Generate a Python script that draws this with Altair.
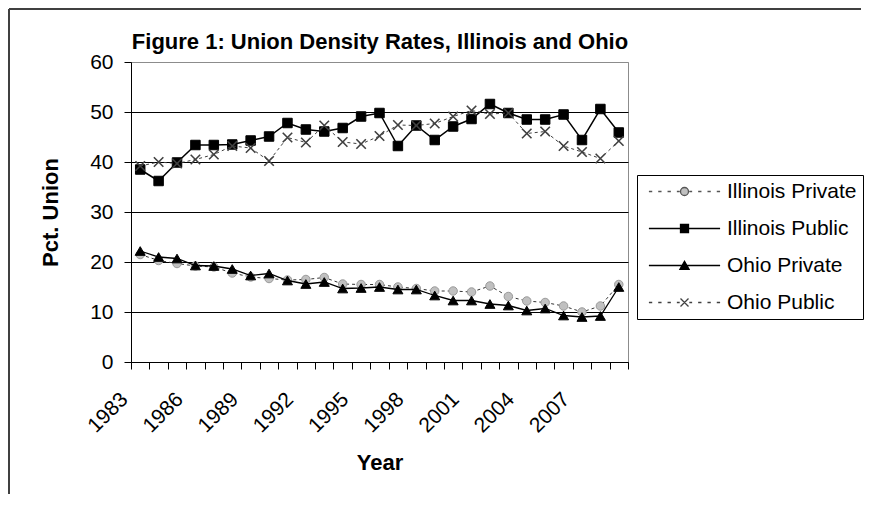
import altair as alt
import pandas as pd

# ---- data ----
years = list(range(1983, 2010))
series_names = ["Illinois Private", "Illinois Public", "Ohio Private", "Ohio Public"]

illinois_private = [21.5, 20.3, 19.7, 19.2, 19.0, 17.8, 17.0, 16.7, 16.4, 16.5,
                    16.9, 15.6, 15.5, 15.5, 15.0, 14.7, 14.2, 14.2, 14.0, 15.2,
                    13.1, 12.2, 11.9, 11.2, 10.0, 11.2, 15.5]
illinois_public = [38.5, 36.2, 39.9, 43.4, 43.4, 43.5, 44.3, 45.1, 47.8, 46.5,
                   46.1, 46.8, 49.1, 49.8, 43.2, 47.3, 44.4, 47.1, 48.6, 51.6,
                   49.8, 48.5, 48.5, 49.5, 44.4, 50.6, 45.9]
ohio_private = [22.2, 21.0, 20.7, 19.3, 19.2, 18.6, 17.3, 17.7, 16.3, 15.6,
                16.0, 14.7, 14.8, 15.0, 14.5, 14.5, 13.3, 12.3, 12.3, 11.6,
                11.3, 10.3, 10.7, 9.3, 9.0, 9.2, 15.0]
ohio_public = [39.2, 40.0, 39.7, 40.5, 41.5, 43.2, 42.8, 40.2, 44.9, 43.9,
               47.3, 44.0, 43.6, 45.2, 47.4, 47.3, 47.7, 49.1, 50.3, 49.6,
               49.8, 45.7, 46.1, 43.2, 42.0, 40.7, 44.2]
y_ticks = [0, 10, 20, 30, 40, 50, 60]
title_text = "Figure 1: Union Density Rates, Illinois and Ohio"

values_by_series = [illinois_private, illinois_public, ohio_private, ohio_public]
df = pd.DataFrame({
    "year": [y for _ in series_names for y in years],
    "series": [s for s in series_names for _ in years],
    "value": [v for vals in values_by_series for v in vals],
})

FONT = "Liberation Sans"

# ---- styles ----
x_path = "M-1,-1L1,1M-1,1L1,-1"
dashes = ("M-8.9,0H-8.07M-6.57,0H-5.74M-4.24,0H-3.41M-1.91,0H-1.2"
          "M1.2,0H1.91M3.41,0H4.24M5.74,0H6.57M8.07,0H8.9")
legend_paths = [
    dashes + "M1,0A1,1,0,1,1,-1,0A1,1,0,1,1,1,0Z",
    "M-8.9,0H8.9M-1,-1H1V1H-1Z",
    "M-8.9,0H8.9M0,-1.05L1.15,0.95H-1.15Z",
    dashes + "M-1,-1L1,1M-1,1L1,-1",
]
legend_fills = ["#c0c0c0", "black", "black", "transparent"]
legend_strokes = ["#555555", "black", "black", "#404040"]

styles = {
    "Illinois Private": dict(line=dict(color="#333333", strokeWidth=1, strokeDash=[3, 3]),
                             point=dict(shape="circle", size=72, filled=True, fill="#c0c0c0",
                                        stroke="#9a9a9a", strokeWidth=1)),
    "Illinois Public": dict(line=dict(color="black", strokeWidth=1.5),
                            point=dict(shape="square", size=90, filled=True, fill="black",
                                       stroke="black", strokeWidth=1)),
    "Ohio Private": dict(line=dict(color="black", strokeWidth=1.3),
                         point=dict(shape="triangle-up", size=100, filled=True, fill="black",
                                    stroke="black", strokeWidth=1)),
    "Ohio Public": dict(line=dict(color="#404040", strokeWidth=1, strokeDash=[3, 3]),
                        point=dict(shape=x_path, size=90, filled=False, fill="transparent",
                                   stroke="#404040", strokeWidth=1.6)),
}

X = alt.X(
    "year:O",
    scale=alt.Scale(type="band", paddingInner=0, paddingOuter=0),
    axis=alt.Axis(
        title="Year", titleFont=FONT, titleFontSize=22, titleFontWeight="bold",
        titleColor="black", titlePadding=16,
        labelExpr="datum.value % 3 == 0 ? datum.label : ''",
        labelAngle=-45, labelAlign="right", labelBaseline="middle",
        labelOffset=-16, labelPadding=27, labelFont=FONT, labelFontSize=21,
        labelColor="black", labelOverlap=False, labelBound=False,
        tickBand="extent", ticks=True, tickSize=7, tickColor="black",
        domainColor="black", grid=False,
    ),
)
Y = alt.Y(
    "value:Q",
    scale=alt.Scale(domain=[0, 60], nice=False, zero=True),
    axis=alt.Axis(
        values=y_ticks, title="Pct. Union", titleFont=FONT, titleFontSize=22,
        titleFontWeight="bold", titleColor="black", titlePadding=27,
        labelFont=FONT, labelFontSize=21, labelColor="black", labelPadding=11,
        tickSize=7, tickColor="black", domainColor="black",
        grid=True, gridColor={"condition": {"test": "datum.value == 60", "value": "#8c8c8c"},
                              "value": "black"},
        gridWidth=1,
    ),
)

layers = []
for s in series_names:
    st = styles[s]
    base = alt.Chart(df).transform_filter(alt.datum.series == s)
    layers.append(base.mark_line(**st["line"]).encode(x=X, y=Y))
    layers.append(base.mark_point(opacity=1, **st["point"]).encode(x=X, y=Y))

legend = alt.Legend(
    title=None, orient="none", legendX=506, legendY=113, padding=6,
    strokeColor="black", fillColor="white", labelFont=FONT, labelFontSize=21,
    labelColor="black", labelLimit=400, rowPadding=15, symbolSize=64,
    symbolStrokeWidth=1.3, symbolOffset=31, labelOffset=32,
)
legend_layer = (
    alt.Chart(df)
    .transform_filter("datum.value < -100")
    .mark_point(filled=True, opacity=1, size=64)
    .encode(
        x=X, y=Y,
        shape=alt.Shape("series:N", scale=alt.Scale(domain=series_names, range=legend_paths), legend=legend),
        fill=alt.Fill("series:N", scale=alt.Scale(domain=series_names, range=legend_fills), legend=legend),
        stroke=alt.Stroke("series:N", scale=alt.Scale(domain=series_names, range=legend_strokes), legend=legend),
    )
)

one = pd.DataFrame({"k": [0]})
frame_left = alt.Chart(one).mark_rule(color="#404040", strokeWidth=2).encode(
    x=alt.value(-122), y=alt.value(-53), y2=alt.value(432))
frame_top = alt.Chart(one).mark_rule(color="#404040", strokeWidth=2).encode(
    x=alt.value(-122), x2=alt.value(730), y=alt.value(-53))
title_mark = alt.Chart(one).mark_text(
    text=title_text, font=FONT, fontSize=22, fontWeight="bold", color="black",
    align="center", baseline="alphabetic",
).encode(x=alt.value(249), y=alt.value(-13))

chart = alt.layer(*layers, legend_layer, frame_left, frame_top, title_mark).properties(
    width=497, height=300, padding=0, background="white",
).configure_view(stroke="#8c8c8c", strokeWidth=1)

chart.save("out.html", embed_options={"renderer": "svg", "actions": False})
